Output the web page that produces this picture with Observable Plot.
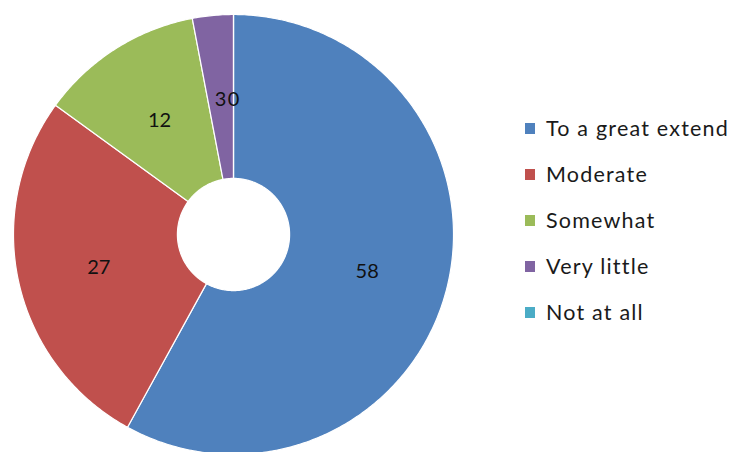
<!DOCTYPE html>
<html>
<head>
<meta charset="utf-8">
<script src="https://cdn.jsdelivr.net/npm/d3@7"></script>
<script src="https://cdn.jsdelivr.net/npm/@observablehq/plot@0.6"></script>
<style>
  html, body { margin: 0; padding: 0; background: #fff; }
  #chart { position: relative; width: 737px; height: 452px; overflow: hidden; }
  #legend { position: absolute; left: 525px; top: 105px; }
  #legend div.lg-swatches-wrap { display: flex !important; flex-direction: column !important; align-items: flex-start !important; margin: 0 !important; min-height: 0 !important; }
  #legend span.lg-swatch { display: flex !important; align-items: center !important; height: 46px; margin: 0 !important; font-family: Lato, sans-serif; font-size: 21.5px; letter-spacing: 1.2px; color: #1a1a1a; white-space: nowrap; }
  #legend span.lg-swatch svg { margin-right: 11px !important; }
</style>
</head>
<body>
<div id="chart"></div>
<script>
const categories = ["To a great extend", "Moderate", "Somewhat", "Very little", "Not at all"];
const values = [58, 27, 12, 3, 0];
const colors = ["#4F81BD", "#C0504D", "#9BBB59", "#8064A2", "#4BACC6"];
const innerRatio = 0.255;

const data = categories.map((c, i) => ({category: c, value: values[i]}));
const arcs = d3.pie().sort(null).value(d => d.value).startAngle(0).endAngle(2 * Math.PI)(data);

// Build annular sector polygons in unit data space (y up, angle clockwise from top)
const poly = [];
arcs.forEach(a => {
  const n = Math.max(2, Math.ceil((a.endAngle - a.startAngle) / 0.01));
  for (let k = 0; k <= n; k++) {
    const t = a.startAngle + (a.endAngle - a.startAngle) * k / n;
    poly.push({category: a.data.category, x: Math.sin(t), y: Math.cos(t)});
  }
  for (let k = n; k >= 0; k--) {
    const t = a.startAngle + (a.endAngle - a.startAngle) * k / n;
    poly.push({category: a.data.category, x: innerRatio * Math.sin(t), y: innerRatio * Math.cos(t)});
  }
});

const labelR = (1 + innerRatio) / 2;
const labels = arcs.map(a => {
  const m = (a.startAngle + a.endAngle) / 2;
  return {text: String(a.data.value), x: labelR * Math.sin(m), y: labelR * Math.cos(m)};
});

const color = {domain: categories, range: colors};

const plot = Plot.plot({
  width: 470,
  height: 452,
  margin: 0,
  x: {domain: [-1, 1], range: [13, 453], axis: null},
  y: {domain: [-1, 1], range: [454, 14], axis: null},
  color,
  style: {background: "transparent"},
  marks: [
    Plot.line(poly, {x: "x", y: "y", z: "category", fill: "category", stroke: "white", strokeWidth: 1.2, curve: "linear-closed"}),
    Plot.text(labels, {x: "x", y: "y", text: "text", dy: 3, fontSize: 20, fill: "#111", fontFamily: "Lato, sans-serif"})
  ]
});

const chart = document.getElementById("chart");
chart.appendChild(plot);

const leg = Plot.legend({color: {...color, type: "ordinal"}, className: "lg", swatchWidth: 10, swatchHeight: 11});
const legWrap = document.createElement("div");
legWrap.id = "legend";
legWrap.appendChild(leg);
chart.appendChild(legWrap);
</script>
</body>
</html>
